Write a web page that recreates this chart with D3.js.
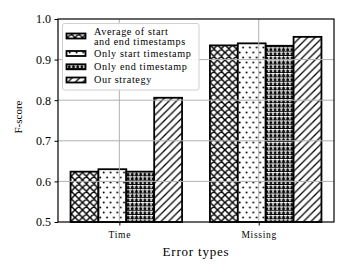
<!DOCTYPE html>
<html><head><meta charset="utf-8">
<script src="https://cdn.jsdelivr.net/npm/d3@7"></script>
<style>
html,body{margin:0;padding:0;background:#fff;}
text{font-family:"Liberation Serif","Times New Roman",serif;fill:#000;}
</style></head>
<body>
<svg id="chart" width="349" height="272"></svg>
<script>
const categories = ["Time", "Missing"];
const seriesNames = ["Average of start\nand end timestamps", "Only start timestamp", "Only end timestamp", "Our strategy"];
const avgStartEnd = [0.624, 0.935];
const onlyStart = [0.630, 0.940];
const onlyEnd = [0.624, 0.934];
const ourStrategy = [0.806, 0.956];
const yTicks = [0.5, 0.6, 0.7, 0.8, 0.9, 1.0];
const hatches = ["xx", "dots", "stars", "diag"];

const series = [avgStartEnd, onlyStart, onlyEnd, ourStrategy];
const svg = d3.select("#chart");
const L = 58, R = 334, T = 19, B = 222;
const barW = 0.2;
const x = d3.scaleLinear().domain([-0.44, 1.54]).range([L, R]);
const y = d3.scaleLinear().domain([0.5, 1.0]).range([B, T]);

// patterns
const defs = svg.append("defs");
const P = 7.5;
function pat(id, w, h) {
  return defs.append("pattern").attr("id", id).attr("patternUnits", "userSpaceOnUse")
    .attr("width", w).attr("height", h);
}
let p = pat("xx", P, P);
p.append("rect").attr("width", P).attr("height", P).attr("fill", "#fff");
p.append("path").attr("d", `M0,0L${P},${P}M${-P},0L${P},${2*P}M0,${-P}L${2*P},${P}M0,${P}L${P},0M${-P},${P}L0,0M${P},${P}L${2*P},0`)
  .attr("stroke", "#000").attr("stroke-width", 1.45);
p = pat("diag", P, P);
p.append("rect").attr("width", P).attr("height", P).attr("fill", "#fff");
p.append("path").attr("d", `M0,${P}L${P},0M${-P},${P}L${P},${-P}M0,${2*P}L${2*P},0`)
  .attr("stroke", "#000").attr("stroke-width", 1.3);
p = pat("dots", 6.8, 10);
p.append("rect").attr("width", 6.8).attr("height", 10).attr("fill", "#fff");
[[1.7, 2.5], [5.1, 7.5]].forEach(([cx, cy]) => p.append("circle").attr("cx", cx).attr("cy", cy).attr("r", 0.95).attr("fill", "#000"));
p = pat("stars", 4.2, 4.3);
p.append("rect").attr("width", 4.2).attr("height", 4.3).attr("fill", "#fff");
p.append("path").attr("d", "M2.1,0L2.8,1.3L4.2,1.4L3.1,2.5L3.5,4L2.1,3.2L0.7,4L1.1,2.5L0,1.4L1.4,1.3Z").attr("fill", "#000");
p.append("rect").attr("y", 3.3).attr("width", 4.2).attr("height", 1.0).attr("fill", "#000");

// bars
series.forEach((vals, i) => {
  svg.append("g").selectAll("rect").data(vals).join("rect")
    .attr("x", (d, j) => x(j - 0.35 + i * barW))
    .attr("width", (d, j) => x(j - 0.35 + (i + 1) * barW) - x(j - 0.35 + i * barW))
    .attr("y", d => y(d))
    .attr("height", d => y(0.5) - y(d))
    .attr("fill", `url(#${hatches[i]})`)
    .attr("stroke", "#000").attr("stroke-width", 1.8);
});

// grid
const grid = svg.append("g");
grid.selectAll("line.h").data(yTicks.slice(1, -1)).join("line")
  .attr("x1", L).attr("x2", R).attr("y1", d => y(d)).attr("y2", d => y(d))
  .attr("stroke", "#b0b0b0").attr("stroke-width", 1);
grid.selectAll("line.v").data(categories.map((c, i) => i)).join("line")
  .attr("y1", T).attr("y2", B).attr("x1", d => x(d)).attr("x2", d => x(d))
  .attr("stroke", "#b0b0b0").attr("stroke-width", 1);

// axes
const yAxis = d3.axisLeft(y).tickValues(yTicks).tickFormat(d3.format(".1f")).tickSize(3.5).tickPadding(3.5);
const gy = svg.append("g").attr("transform", `translate(${L},0)`).call(yAxis);
gy.select(".domain").remove();
gy.selectAll("line").attr("stroke-width", 1);
gy.selectAll("text").attr("font-size", 12).style("font-family", '"Liberation Serif",serif');

const xAxis = d3.axisBottom(x).tickValues(categories.map((c, i) => i)).tickFormat(i => categories[i]).tickSize(3.5).tickPadding(6);
const gx = svg.append("g").attr("transform", `translate(0,${B})`).call(xAxis);
gx.select(".domain").remove();
gx.selectAll("line").attr("stroke-width", 1);
gx.selectAll("text").attr("font-size", 9.5).attr("letter-spacing", 0.7).style("font-family", '"Liberation Serif",serif');

svg.append("rect").attr("x", L).attr("y", T).attr("width", R - L).attr("height", B - T)
  .attr("fill", "none").attr("stroke", "#000").attr("stroke-width", 1.2);

svg.append("text").attr("x", 196).attr("y", 256).attr("text-anchor", "middle")
  .attr("font-size", 13).attr("letter-spacing", 0.8).text("Error types");
svg.append("text").attr("transform", "translate(22,117) rotate(-90)").attr("text-anchor", "middle")
  .attr("font-size", 11).text("F-score");

// legend
const lg = svg.append("g");
lg.append("rect").attr("x", 62.5).attr("y", 23.5).attr("width", 136.5).attr("height", 66.5).attr("rx", 2)
  .attr("fill", "#fff").attr("fill-opacity", 0.92).attr("stroke", "#d0d0d0").attr("stroke-width", 1);
const patchY = [33.5, 51, 64.3, 77.5];
const textY = [[34.5, 44.6], [56.7], [69.5], [83]];
seriesNames.forEach((name, i) => {
  lg.append("rect").attr("x", 66.5).attr("y", patchY[i]).attr("width", 19).attr("height", 5)
    .attr("fill", `url(#${hatches[i]})`).attr("stroke", "#000").attr("stroke-width", 1.8);
  name.split("\n").forEach((line, k) => {
    lg.append("text").attr("x", 94).attr("y", textY[i][k]).attr("font-size", 10.2).attr("letter-spacing", 0.6).text(line);
  });
});
</script>
</body></html>
